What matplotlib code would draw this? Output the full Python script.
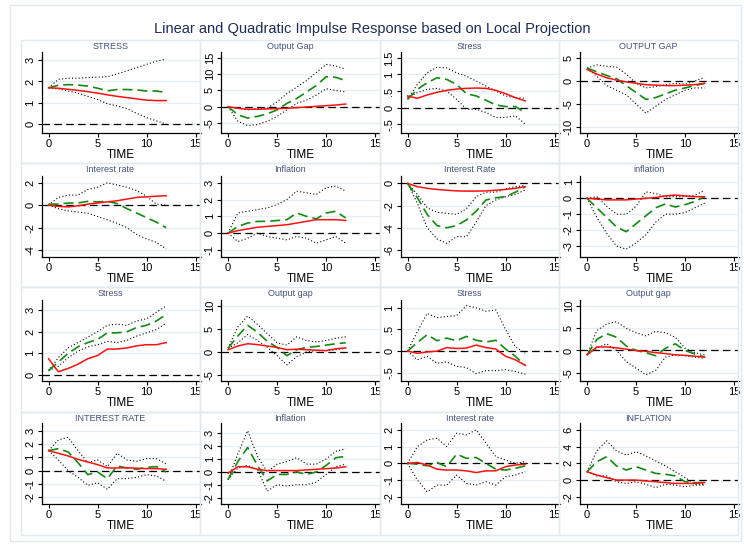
import numpy as np
import matplotlib
matplotlib.use('Agg')
import matplotlib.pyplot as plt
from matplotlib.patches import Rectangle

plt.rcParams['font.family'] = ['Liberation Sans', 'DejaVu Sans']

horizon = list(range(13))

titles = ['STRESS', 'Output Gap', 'Stress', 'OUTPUT GAP',
          'Interest rate', 'Inflation', 'Interest Rate', 'inflation',
          'Stress', 'Output gap', 'Stress', 'Output gap',
          'INTEREST RATE', 'Inflation', 'Interest rate', 'INFLATION']

yticks = [[0, 1, 2, 3], [-5, 0, 5, 10, 15], [-0.5, 0, 0.5, 1, 1.5], [-10, -5, 0, 5],
          [-4, -2, 0, 2], [-1, 0, 1, 2, 3], [-6, -4, -2, 0], [-3, -2, -1, 0, 1],
          [0, 1, 2, 3], [-5, 0, 5, 10], [-0.5, 0, 0.5, 1], [-5, 0, 5, 10],
          [-2, -1, 0, 1, 2, 3], [-2, -1, 0, 1, 2, 3], [-2, -1, 0, 1, 2], [-2, 0, 2, 4, 6]]

ylims = [(-0.42, 3.38), (-8.1, 16.8), (-0.77, 1.68), (-11.3, 6.3),
         (-4.6, 2.6), (-1.42, 3.4), (-6.63, 0.66), (-3.69, 1.4),
         (-0.28, 3.47), (-6.3, 11.3), (-0.69, 1.18), (-6.9, 11.4),
         (-2.5, 3.57), (-2.5, 3.8), (-2.43, 2.41), (-2.86, 6.83)]

# quadratic (red) response
red = [
    [1.7, 1.68, 1.63, 1.58, 1.52, 1.45, 1.37, 1.30, 1.24, 1.18, 1.12, 1.10, 1.10],
    [0, -0.5, -0.8, -0.8, -0.7, -0.6, -0.5, -0.3, -0.1, 0.1, 0.3, 0.5, 0.8],
    [0.35, 0.28, 0.38, 0.46, 0.52, 0.56, 0.58, 0.59, 0.58, 0.52, 0.42, 0.30, 0.20],
    [2.5, 1.5, 0.7, 0.2, -0.2, -0.5, -0.8, -0.9, -1.0, -1.0, -0.9, -0.8, -0.5],
    [0, -0.1, -0.15, -0.05, 0.1, 0.2, 0.3, 0.4, 0.55, 0.7, 0.75, 0.8, 0.85],
    [0, 0.15, 0.25, 0.35, 0.4, 0.45, 0.5, 0.6, 0.7, 0.8, 0.8, 0.8, 0.75],
    [0, -0.3, -0.45, -0.55, -0.62, -0.68, -0.7, -0.7, -0.68, -0.62, -0.55, -0.45, -0.3],
    [0, -0.05, -0.1, -0.1, -0.1, -0.05, 0.0, 0.05, 0.15, 0.2, 0.15, 0.1, 0.1],
    [0.75, 0.15, 0.3, 0.5, 0.75, 0.9, 1.2, 1.2, 1.25, 1.35, 1.4, 1.4, 1.5],
    [0.5, 1.3, 1.8, 1.6, 1.3, 1.0, 0.5, 0.6, 0.5, 0.4, 0.3, 0.7, 0.9],
    [0, -0.05, -0.02, 0.0, 0.08, 0.06, 0.07, 0.14, 0.08, 0.05, -0.12, -0.2, -0.33],
    [-1.0, 0.8, 0.8, 0.6, 0.3, 0.0, -0.2, -0.5, -0.7, -1.0, -1.1, -1.3, -1.5],
    [1.5, 1.3, 1.1, 0.85, 0.65, 0.45, 0.2, 0.2, 0.22, 0.18, 0.15, 0.15, 0.1],
    [-0.1, 0.4, 0.4, 0.2, 0.1, 0.1, 0.1, 0.1, 0.15, 0.2, 0.25, 0.3, 0.4],
    [0, 0.05, -0.1, -0.35, -0.4, -0.4, -0.45, -0.55, -0.45, -0.45, -0.2, -0.1, -0.05],
    [1.0, 0.6, 0.3, 0.0, 0.0, 0.0, -0.1, -0.2, -0.3, -0.4, -0.4, -0.4, -0.3],
]

# linear (green) response
green = [
    [1.7, 1.82, 1.85, 1.83, 1.78, 1.68, 1.56, 1.62, 1.62, 1.60, 1.55, 1.55, 1.48],
    [0, -2.5, -3.5, -3.0, -2.2, -1.0, 1.0, 2.5, 4.5, 6.5, 9.2, 9.0, 8.0],
    [0.25, 0.55, 0.75, 0.9, 0.85, 0.7, 0.42, 0.35, 0.22, 0.08, 0.03, 0.03, -0.15],
    [2.8, 2.0, 1.2, 0.5, -1.0, -2.5, -4.0, -3.6, -2.8, -2.0, -1.5, -1.0, -0.5],
    [0.1, 0.1, 0.2, 0.2, 0.35, 0.3, 0.35, 0.15, -0.3, -0.7, -1.1, -1.5, -2.0],
    [0, 0.4, 0.6, 0.7, 0.7, 0.75, 0.8, 1.2, 1.0, 0.85, 1.2, 1.3, 0.9],
    [0, -1.3, -2.8, -3.8, -4.0, -3.8, -3.3, -2.5, -1.5, -1.3, -1.2, -0.8, -0.3],
    [0, -0.6, -1.2, -1.8, -2.1, -1.6, -1.1, -0.6, -0.35, -0.55, -0.4, -0.2, 0.1],
    [0.2, 0.6, 1.0, 1.3, 1.5, 1.65, 1.95, 1.95, 2.0, 2.2, 2.3, 2.5, 2.8],
    [0.8, 3.5, 5.8, 4.3, 2.3, 1.0, -0.8, 0.5, 1.0, 1.2, 1.5, 1.8, 2.0],
    [0, 0.2, 0.38, 0.24, 0.3, 0.24, 0.34, 0.25, 0.21, 0.25, 0.05, -0.12, -0.33],
    [-1.0, 2.5, 3.8, 3.0, 1.0, 0.0, -0.5, -1.2, 0.5, 1.5, 0.0, -0.8, -1.5],
    [1.5, 1.65, 1.4, 0.6, -0.3, -0.1, -0.6, 0.35, 0.2, 0.1, 0.25, 0.3, -0.1],
    [-0.6, 0.8, 1.9, 0.5, -0.7, -0.2, -0.2, 0.0, -0.2, 0.0, 0.5, 1.1, 1.2],
    [0, -0.05, -0.15, 0.05, -0.2, 0.55, 0.3, 0.35, 0.0, -0.35, -0.4, -0.3, -0.15],
    [1.0, 2.2, 2.8, 1.7, 1.2, 1.6, 1.2, 0.8, 0.7, 0.5, -0.2, -0.3, -0.3],
]

# confidence band of the linear response
upper = [
    [1.7, 2.1, 2.15, 2.15, 2.18, 2.2, 2.22, 2.35, 2.5, 2.65, 2.8, 2.95, 3.05],
    [0, -0.5, -1.0, -0.5, -0.5, 1.5, 4.0, 6.0, 8.0, 10.5, 13.0, 12.5, 11.5],
    [0.25, 0.7, 1.05, 1.22, 1.2, 1.05, 0.95, 0.8, 0.65, 0.5, 0.35, 0.3, 0.28],
    [2.8, 3.5, 3.2, 3.0, 1.5, -0.5, -1.5, -1.2, -0.8, -0.5, -0.7, 0.0, 0.8],
    [0, 0.7, 0.9, 0.9, 1.4, 1.6, 2.0, 1.8, 1.6, 1.3, 0.8, 0.1, 0.0],
    [0, 1.2, 1.3, 1.4, 1.5, 1.7, 2.0, 2.5, 2.4, 2.3, 2.7, 2.8, 2.5],
    [0, -1.0, -2.2, -2.6, -2.7, -2.8, -2.3, -1.2, -0.8, -0.8, -0.5, -0.3, -0.2],
    [0, 0.1, -0.5, -1.0, -1.0, -0.5, 0.4, 0.3, 0.1, 0.1, 0.1, 0.2, 0.5],
    [0.2, 0.8, 1.25, 1.5, 1.75, 2.0, 2.3, 2.35, 2.3, 2.5, 2.6, 2.9, 3.2],
    [0.8, 5.5, 7.8, 6.0, 4.0, 2.0, 1.5, 3.3, 2.5, 2.2, 2.5, 3.0, 3.3],
    [0, 0.45, 0.87, 0.77, 0.8, 0.82, 1.05, 1.0, 0.92, 0.95, 0.5, 0.1, -0.05],
    [-1.0, 4.5, 6.0, 6.5, 5.0, 4.0, 3.3, 4.3, 4.0, 3.0, 0.5, -0.5, -1.0],
    [1.5, 2.3, 2.5, 1.5, 0.6, 0.8, 0.3, 1.3, 0.8, 0.7, 0.9, 0.9, 0.5],
    [-0.6, 1.4, 3.2, 1.2, 0.0, 0.6, 0.8, 1.1, 0.6, 0.6, 1.0, 1.6, 1.8],
    [0, 1.0, 1.4, 1.5, 1.0, 1.8, 1.7, 2.0, 1.2, 0.4, 0.2, 0.0, 0.1],
    [1.0, 3.5, 4.7, 3.5, 3.0, 3.4, 2.9, 2.3, 1.7, 1.0, 0.3, -0.5, -0.5],
]

lower = [
    [1.7, 1.65, 1.55, 1.45, 1.3, 1.15, 0.95, 0.85, 0.72, 0.5, 0.3, 0.15, 0.0],
    [0, -4.5, -5.8, -5.5, -4.5, -3.0, -1.0, 1.0, 2.0, 3.5, 5.5, 5.0, 4.5],
    [0.3, 0.45, 0.55, 0.58, 0.5, 0.25, -0.05, -0.05, -0.15, -0.3, -0.3, -0.25, -0.5],
    [2.8, 1.0, -1.0, -2.0, -3.0, -5.0, -7.0, -5.5, -4.0, -3.0, -2.0, -1.5, -1.5],
    [0, -0.3, -0.5, -0.6, -0.7, -1.0, -1.3, -1.6, -2.0, -2.6, -3.0, -3.3, -3.9],
    [0, -0.5, -0.3, 0.0, -0.2, -0.3, -0.4, -0.2, -0.3, -0.6, -0.4, -0.2, -0.6],
    [0, -1.8, -4.0, -5.0, -5.4, -4.8, -4.8, -3.5, -2.0, -1.5, -1.2, -1.0, -0.6],
    [0, -1.2, -2.2, -3.0, -3.2, -2.8, -2.3, -1.5, -1.0, -1.0, -0.9, -0.6, -0.3],
    [0.2, 0.4, 0.8, 1.1, 1.3, 1.4, 1.55, 1.5, 1.6, 1.8, 1.95, 2.1, 2.4],
    [0.8, 2.0, 3.8, 2.5, 1.0, -0.8, -2.8, -1.0, 0.0, 0.3, 0.3, 0.5, 0.8],
    [0, -0.2, -0.12, -0.28, -0.25, -0.35, -0.38, -0.52, -0.45, -0.45, -0.43, -0.47, -0.53],
    [-1.0, 0.5, 1.5, 0.0, -2.5, -4.0, -5.5, -4.5, -1.5, -1.0, -1.2, -1.5, -1.8],
    [1.5, 0.8, 0.0, -0.5, -1.1, -0.9, -1.4, -0.6, -0.6, -0.5, -0.3, -0.4, -0.8],
    [-0.6, 0.3, 0.5, 0.2, -1.5, -1.0, -1.1, -1.0, -1.0, -0.8, -0.2, 0.4, 0.6],
    [0, -1.0, -1.7, -1.3, -1.3, -0.7, -1.2, -1.3, -1.1, -1.3, -0.8, -0.7, -0.5],
    [1.0, 0.5, 0.5, -0.2, -0.4, -0.2, -0.5, -0.9, -0.5, -0.6, -0.8, -0.6, -0.6],
]

W, H = 744, 545
fig = plt.figure(figsize=(W / 100, H / 100), dpi=100)
fig.patch.set_facecolor('white')


def px(x, y, w, h):
    """ pixel box (top-left origin) -> figure fraction rect """
    return [x / W, 1 - (y + h) / H, w / W, h / H]


# outer frame and panel boxes
fig.patches.append(Rectangle((10 / W, 1 - 541 / H), 731 / W, 536 / H, transform=fig.transFigure,
                             fill=False, ec='#e3e9ee', lw=1.0))
col_edges = [21, 200, 380, 559, 738]
row_edges = [40, 163, 287, 412, 535]
for r in range(4):
    for c in range(4):
        x0, x1 = col_edges[c], col_edges[c + 1]
        y0, y1 = row_edges[r], row_edges[r + 1]
        fig.patches.append(Rectangle((x0 / W, 1 - y1 / H), (x1 - x0) / W, (y1 - y0) / H,
                                     transform=fig.transFigure, fill=False,
                                     ec='#e1e8ee', lw=1.0))

fig.text(0.5, 1 - 29 / H, 'Linear and Quadratic Impulse Response based on Local Projection',
         ha='center', va='center', fontsize=10.5, color='#1c2c54')

spine_x = [41.5, 221, 400.5, 580]
spine_top = [52, 176, 300, 423]
ax_w, ax_h = 159, 81

for i in range(16):
    r, c = divmod(i, 4)
    ax = fig.add_axes(px(spine_x[c], spine_top[r], ax_w, ax_h))
    ax.set_facecolor('none')
    for s in ['top', 'right']:
        ax.spines[s].set_visible(False)
    for s in ['left', 'bottom']:
        ax.spines[s].set_linewidth(0.9)
    ax.set_xlim(-0.72, 15.5)
    ax.set_ylim(*ylims[i])
    ax.set_xticks([0, 5, 10, 15])
    ax.set_yticks(yticks[i])
    ax.set_yticklabels([('%g' % v).replace('0.', '.') for v in yticks[i]],
                       rotation=90, va='center')
    ax.tick_params(labelsize=8, length=3, width=0.8, pad=1.5)
    ax.grid(axis='y', color='#e7edf1', lw=0.9)
    ax.set_axisbelow(True)
    ax.set_xlabel('TIME', fontsize=8.5, labelpad=0)

    # panel title sits near the top of its box
    cx = (col_edges[c] + col_edges[c + 1]) / 2
    fig.text(cx / W, 1 - (row_edges[r] + 6.5) / H, titles[i], ha='center', va='center',
             fontsize=6.5, color='#44537a')

    ax.axhline(0, color='black', lw=0.9, ls=(0, (6, 3.5)))
    ax.plot(horizon, upper[i], color='black', lw=0.8, ls=(0, (1, 2)))
    ax.plot(horizon, lower[i], color='black', lw=0.8, ls=(0, (1, 2)))
    ax.plot(horizon, green[i], color='#118a11', lw=1.2, ls=(0, (6, 3)))
    ax.plot(horizon, red[i], color='#ff1010', lw=1.1)

fig.savefig('out.png', dpi=100)
